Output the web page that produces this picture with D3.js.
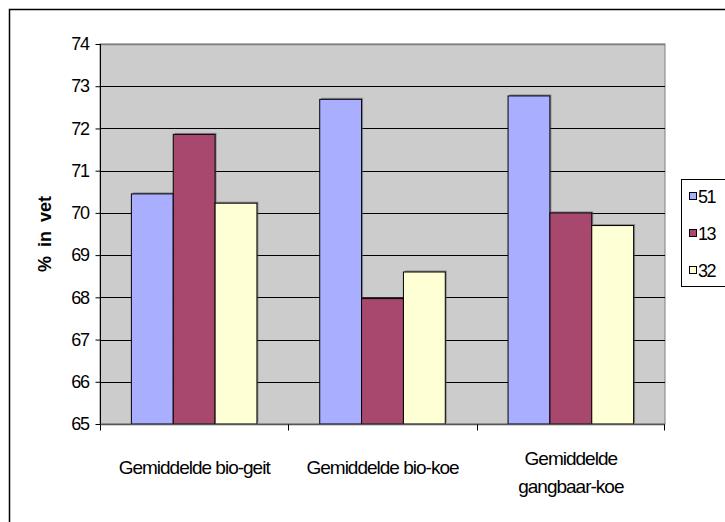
<!DOCTYPE html>
<html>
<head>
<meta charset="utf-8">
<script src="https://cdn.jsdelivr.net/npm/d3@7"></script>
<style>
  html, body { margin: 0; padding: 0; background: #fff; }
  svg { display: block; }
  text { font-family: Arial, "Liberation Sans", sans-serif; fill: #000; }
</style>
</head>
<body>
<svg id="chart" width="725" height="522"></svg>
<script>
// Groups and series (percentage fat)
const categories = ["Gemiddelde bio-geit", "Gemiddelde bio-koe", "Gemiddelde gangbaar-koe"];
const categoryLines = [["Gemiddelde bio-geit"], ["Gemiddelde bio-koe"], ["Gemiddelde", "gangbaar-koe"]];
const seriesNames = ["51", "13", "32"];
const series51 = [70.45, 72.69, 72.77];
const series13 = [71.86, 67.97, 70.00];
const series32 = [70.23, 68.60, 69.70];
const yTicks = [65, 66, 67, 68, 69, 70, 71, 72, 73, 74];
const yTitle = "% in vet";

const seriesValues = [series51, series13, series32];
const colors = ["#aaaeff", "#a8486f", "#ffffd6"];

const svg = d3.select("#chart");

// Outer chart border
svg.append("rect")
  .attr("x", 9.5).attr("y", 9.5)
  .attr("width", 740).attr("height", 520)
  .attr("fill", "none").attr("stroke", "#000").attr("stroke-width", 1.5);

const plot = { left: 100, right: 665, top: 44, bottom: 424 };

const x0 = d3.scaleBand().domain(categories).range([plot.left, plot.right]).padding(0);
const barW = x0.bandwidth() / 4.5;
const x1 = d3.scaleBand().domain(seriesNames)
  .range([barW * 0.75, barW * 3.75]).padding(0);
const y = d3.scaleLinear().domain([65, 74]).range([plot.bottom, plot.top]);

// Plot background
svg.append("rect")
  .attr("x", plot.left).attr("y", plot.top)
  .attr("width", plot.right - plot.left).attr("height", plot.bottom - plot.top)
  .attr("fill", "#cccccc").attr("stroke", "#808080").attr("stroke-width", 1);

// Gridlines
svg.append("g").selectAll("line")
  .data(yTicks.filter(t => t > 65 && t < 74))
  .join("line")
  .attr("x1", plot.left).attr("x2", plot.right)
  .attr("y1", d => Math.round(y(d)) + 0.5).attr("y2", d => Math.round(y(d)) + 0.5)
  .attr("stroke", "#000").attr("stroke-width", 1);
svg.append("line")
  .attr("x1", plot.left).attr("x2", plot.right)
  .attr("y1", y(74) + 0.5).attr("y2", y(74) + 0.5)
  .attr("stroke", "#808080").attr("stroke-width", 1.5);

// Bars
const groups = svg.append("g").selectAll("g")
  .data(categories)
  .join("g")
  .attr("transform", d => `translate(${x0(d)},0)`);

groups.each(function(cat, ci) {
  const g = d3.select(this);
  seriesNames.forEach((s, si) => {
    const v = seriesValues[si][ci];
    // soft drop shadow
    g.append("rect")
      .attr("x", x1(s) + 1.5).attr("y", y(v) - 1.5)
      .attr("width", x1.bandwidth()).attr("height", y(65) - y(v))
      .attr("fill", "#555").attr("opacity", 0.55);
    g.append("rect")
      .attr("x", x1(s)).attr("y", y(v))
      .attr("width", x1.bandwidth()).attr("height", y(65) - y(v))
      .attr("fill", colors[si]).attr("stroke", "#000").attr("stroke-width", 1);
  });
});

// Y axis
const yAxis = d3.axisLeft(y).tickValues(yTicks).tickSize(5).tickPadding(7).tickFormat(d3.format("d"));
const ya = svg.append("g").attr("transform", `translate(${plot.left + 0.5},0)`).call(yAxis);
ya.select(".domain").attr("stroke", "#000").attr("d", `M0,${plot.top}V${plot.bottom + 5}`);
ya.selectAll(".tick line").attr("stroke", "#000");
ya.selectAll(".tick text")
  .attr("font-size", 18).attr("letter-spacing", -1.4)
  .attr("font-family", "Arial, 'Liberation Sans', sans-serif").attr("fill", "#000");

// X axis
const xa = svg.append("g").attr("transform", `translate(0,${plot.bottom + 0.5})`);
xa.append("line").attr("x1", plot.left).attr("x2", plot.right)
  .attr("stroke", "#555").attr("stroke-width", 1.5);
xa.selectAll("line.tk")
  .data(categories.concat(["end"]))
  .join("line").attr("class", "tk")
  .attr("x1", (d, i) => i < categories.length ? Math.round(x0(d)) + 0.5 : plot.right - 0.5)
  .attr("x2", (d, i) => i < categories.length ? Math.round(x0(d)) + 0.5 : plot.right - 0.5)
  .attr("y1", 0).attr("y2", 6).attr("stroke", "#000");

const catLabels = svg.append("g").selectAll("text")
  .data(categories)
  .join("text")
  .attr("text-anchor", "middle")
  .attr("font-size", 19).attr("letter-spacing", -1)
  .attr("x", d => x0(d) + x0.bandwidth() / 2)
  .attr("y", 474);
catLabels.each(function(d, i) {
  const lines = categoryLines[i];
  d3.select(this).selectAll("tspan")
    .data(lines)
    .join("tspan")
    .attr("x", x0(d) + x0.bandwidth() / 2)
    .attr("dy", (l, j) => j === 0 ? (lines.length > 1 ? -9 : 0) : 28)
    .text(l => l);
});

// Y axis title
svg.append("text")
  .attr("transform", `translate(51,${(plot.top + plot.bottom) / 2}) rotate(-90)`)
  .attr("text-anchor", "middle")
  .attr("font-size", 18).attr("font-weight", "bold")
  .attr("word-spacing", 4)
  .text(yTitle);

// Legend
const lg = svg.append("g");
lg.append("rect")
  .attr("x", 681.5).attr("y", 179.5).attr("width", 60).attr("height", 107)
  .attr("fill", "#fff").attr("stroke", "#000").attr("stroke-width", 1);
seriesNames.forEach((s, i) => {
  const cy = 196 + i * 37;
  lg.append("rect")
    .attr("x", 689.5).attr("y", cy - 3.5).attr("width", 7).attr("height", 7)
    .attr("fill", colors[i]).attr("stroke", "#000").attr("stroke-width", 1);
  lg.append("text")
    .attr("x", 698).attr("y", cy + 6.5)
    .attr("font-size", 18).attr("letter-spacing", -1.4)
    .text(s);
});
</script>
</body>
</html>
